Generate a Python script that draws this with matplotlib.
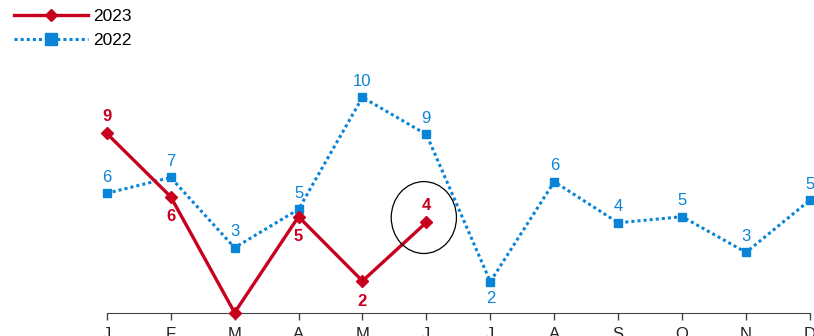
import matplotlib
matplotlib.use("Agg")
import matplotlib.pyplot as plt
from matplotlib.patches import Ellipse

plt.rcParams['font.family'] = ['Liberation Sans', 'DejaVu Sans']

months = ["J", "F", "M", "A", "M", "J", "J", "A", "S", "O", "N", "D"]

# values (labels are what the chart prints)
vals_2023 = [9.0, 6.0, 0.5, 5.05, 2.0, 4.78]
labels_2023 = ["9", "6", "", "5", "2", "4"]
below_2023 = [False, True, True, True, True, False]

vals_2022 = [6.16, 6.91, 3.58, 5.40, 10.71, 8.95, 1.97, 6.71, 4.76, 5.05, 3.36, 5.84]
labels_2022 = ["6", "7", "3", "5", "10", "9", "2", "6", "4", "5", "3", "5"]
below_2022 = [False] * 6 + [True] + [False] * 5

highlight = 5  # June 2023 point gets the circle

red = "#c8001e"
blue = "#0a84d6"

fig = plt.figure(figsize=(8.14, 3.36), dpi=100)
ax = fig.add_axes([0.1311, 0.0695, 0.864, 0.659])

x23 = list(range(len(vals_2023)))
x22 = list(range(len(vals_2022)))

l23, = ax.plot(x23, vals_2023, color=red, lw=2.4, marker="D", ms=6.5,
               label="2023", clip_on=False, zorder=4)
l22, = ax.plot(x22, vals_2022, color=blue, lw=2.2, ls=(0, (1, 1)), marker="s", ms=5.5,
               label="2022", clip_on=False, zorder=3)

for i, v in enumerate(vals_2022):
    off = -12 if below_2022[i] else 11.5
    ax.annotate(labels_2022[i], (i, v), xytext=(0, off), textcoords="offset points",
                ha="center", va="center", color=blue, fontsize=12,
                annotation_clip=False)

for i, v in enumerate(vals_2023):
    if not labels_2023[i]:
        continue
    off = -14.5 if below_2023[i] else 12.5
    ax.annotate(labels_2023[i], (i, v), xytext=(0, off), textcoords="offset points",
                ha="center", va="center", color=red, fontsize=12, fontweight="bold",
                annotation_clip=False)

ax.add_patch(Ellipse((highlight - 0.04, vals_2023[highlight] + 0.23), 1.02, 3.41,
                     fill=False, edgecolor="black", lw=0.9, zorder=5))

ax.set_xlim(0, 11)
ax.set_ylim(0.5, 11)
ax.set_xticks(range(12))
ax.set_xticklabels(months)
ax.tick_params(axis="x", length=5, width=1, color="#444444", labelsize=12,
               labelcolor="#222222", pad=5)
ax.set_yticks([])
for s in ["top", "right", "left"]:
    ax.spines[s].set_visible(False)
ax.spines["bottom"].set_color("#444444")

leg = fig.legend(handles=[l23, l22], loc="upper left", bbox_to_anchor=(14 / 814, 1 - 9 / 336),
                 frameon=False, fontsize=12.5, handlelength=4.25, handletextpad=0.3,
                 labelspacing=0.5, borderpad=0, borderaxespad=0)
leg.legend_handles[0].set_markersize(6)
leg.legend_handles[1].set_markersize(8.5)

fig.savefig("out.png", dpi=100)
